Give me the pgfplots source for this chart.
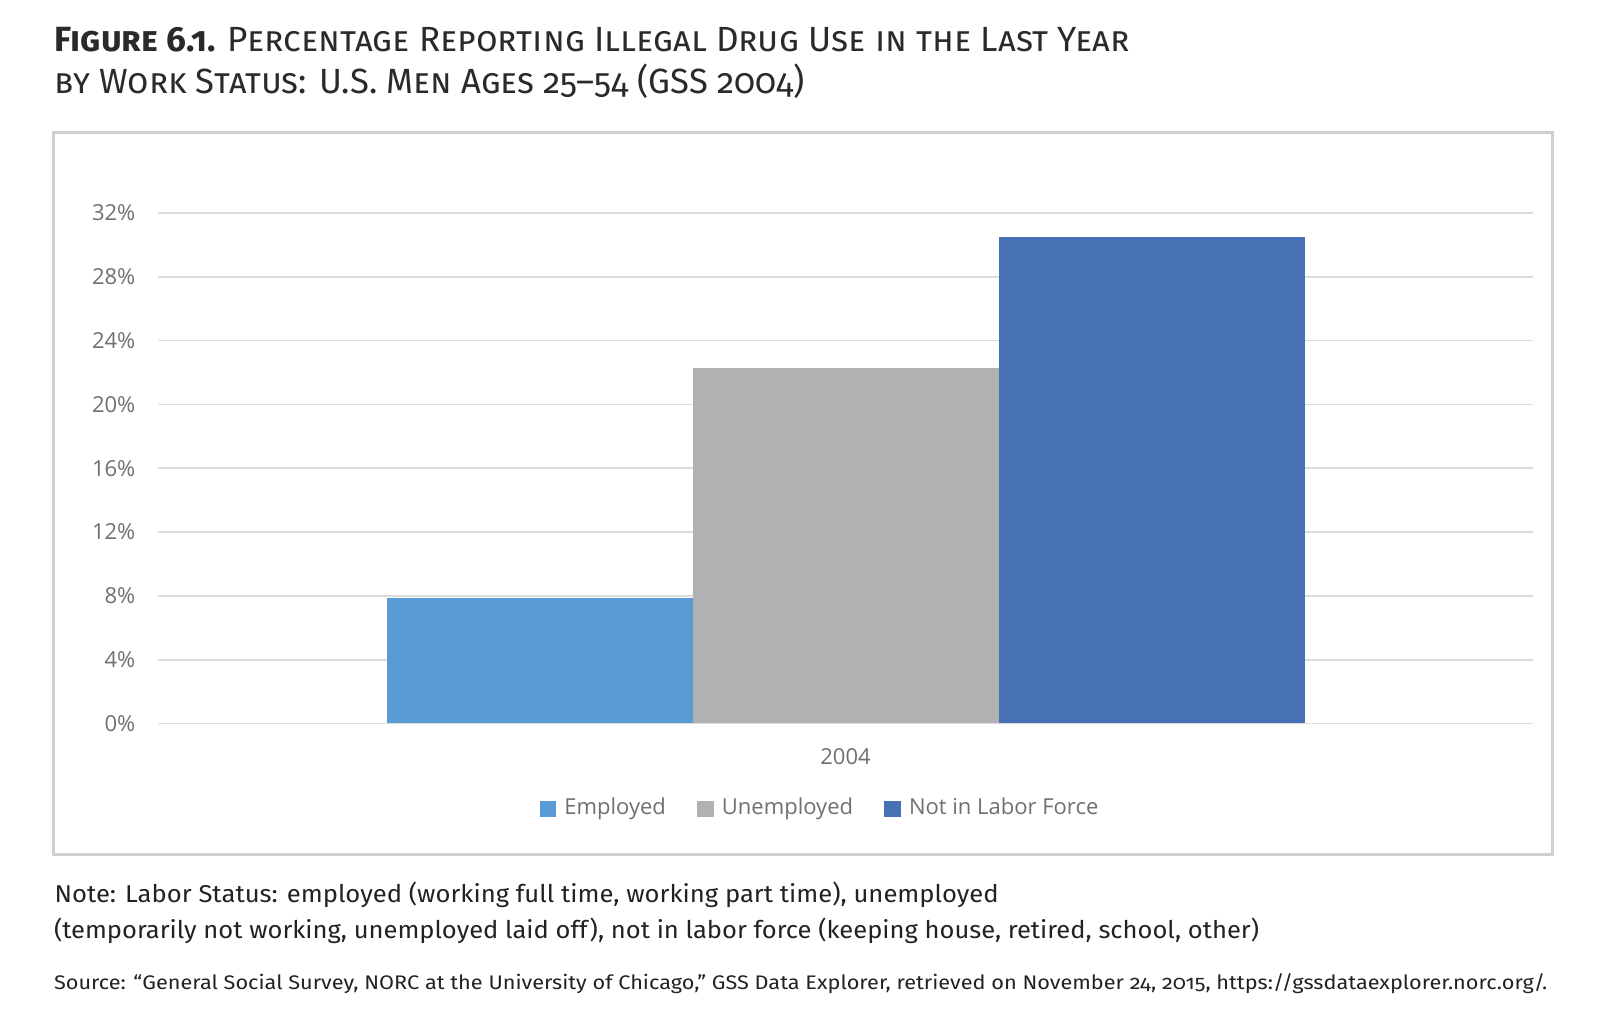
\documentclass[border=0pt]{standalone}
\usepackage{fontspec}
\usepackage{graphicx}
\usepackage{pgfplots}
\pgfplotsset{compat=1.18}
\setmainfont{Open Sans}
\newfontfamily\titlefont[Numbers=OldStyle]{Fira Sans}
\newfontfamily\notefont[Numbers=OldStyle]{Fira Sans}
\definecolor{emp}{HTML}{5B9BD5}
\definecolor{unemp}{HTML}{AFB1B2}
\definecolor{nilf}{HTML}{4771B5}
\definecolor{gridc}{HTML}{DCDCDC}
\definecolor{framec}{HTML}{CFCFCF}
\definecolor{labc}{HTML}{707070}
\definecolor{titc}{HTML}{2A2A2A}
\definecolor{notec}{HTML}{222222}
\begin{document}
\begin{tikzpicture}[x=1pt,y=1pt]
\fill[white] (0,0) rectangle (480,308.4);
\useasboundingbox (0,0) rectangle (480,308.4);
\draw[framec, line width=0.9pt] (15.9,51.9) rectangle (465.6,268.5);
\begin{axis}[
  at={(47.4pt,91.35pt)}, anchor=south west,
  scale only axis, width=412.5pt, height=153.15pt,
  xmin=-1, xmax=1, ymin=0, ymax=32,
  ybar=0pt, bar width=91.8pt,
  axis line style={draw=none},
  major tick length=0pt,
  ytick={0,4,...,32},
  yticklabel={\pgfmathprintnumber{\tick}\%},
  xtick={0}, xticklabels={2004},
  ymajorgrids, grid style={gridc, line width=0.5pt},
  tick label style={font=\fontsize{6.6}{7}\selectfont, text=labc, inner sep=0pt},
  yticklabel style={anchor=east, xshift=-6.6pt},
  xticklabel style={anchor=center, yshift=-9.9pt},
  /pgf/number format/assume math mode=true,
  legend style={at={(0.482,-0.1675)}, anchor=center, draw=none, fill=none,
    legend columns=3, font=\fontsize{6.6}{7}\selectfont, text=labc,
    inner sep=0pt, nodes={inner sep=1pt},
    /tikz/every even column/.append style={column sep=8.4pt}},
  legend image code/.code={\fill[#1] (0pt,-2.5pt) rectangle (5pt,2.5pt); \path (6.4pt,0pt);},
]
\addplot[fill=emp, draw=none] coordinates {(0,7.85)};
\addplot[fill=unemp, draw=none] coordinates {(0,22.3)};
\addplot[fill=nilf, draw=none] coordinates {(0,30.5)};
\legend{Employed, Unemployed, Not in Labor Force}
\end{axis}
\node[anchor=base west, inner sep=0pt, text=titc] at (16.2,292.8) {\resizebox{322.5pt}{\height}{\titlefont\fontsize{10.5}{10.5}\selectfont\scshape{\bfseries Figure 6.1.} Percentage Reporting Illegal Drug Use in the Last Year}};
\node[anchor=base west, inner sep=0pt, text=titc] at (16.2,280.3) {\resizebox{225pt}{\height}{\titlefont\fontsize{10.5}{10.5}\selectfont\scshape by Work Status: U.S. Men Ages 25–54 (GSS 2004)}};
\node[anchor=base west, inner sep=0pt, text=notec] at (16.2,37.6) {\resizebox{283.2pt}{\height}{\notefont\fontsize{7.3}{8}\selectfont Note: Labor Status: employed (working full time, working part time), unemployed}};
\node[anchor=base west, inner sep=0pt, text=notec] at (16.0,27.0) {\resizebox{361.5pt}{\height}{\notefont\fontsize{7.3}{8}\selectfont (temporarily not working, unemployed laid off), not in labor force (keeping house, retired, school, other)}};
\node[anchor=base west, inner sep=0pt, text=notec] at (16.0,11.7) {\resizebox{448pt}{\height}{\notefont\fontsize{5.9}{7}\selectfont Source: “General Social Survey, NORC at the University of Chicago,” GSS Data Explorer, retrieved on November 24, 2015, https://gssdataexplorer.norc.org/.}};
\end{tikzpicture}
\end{document}
